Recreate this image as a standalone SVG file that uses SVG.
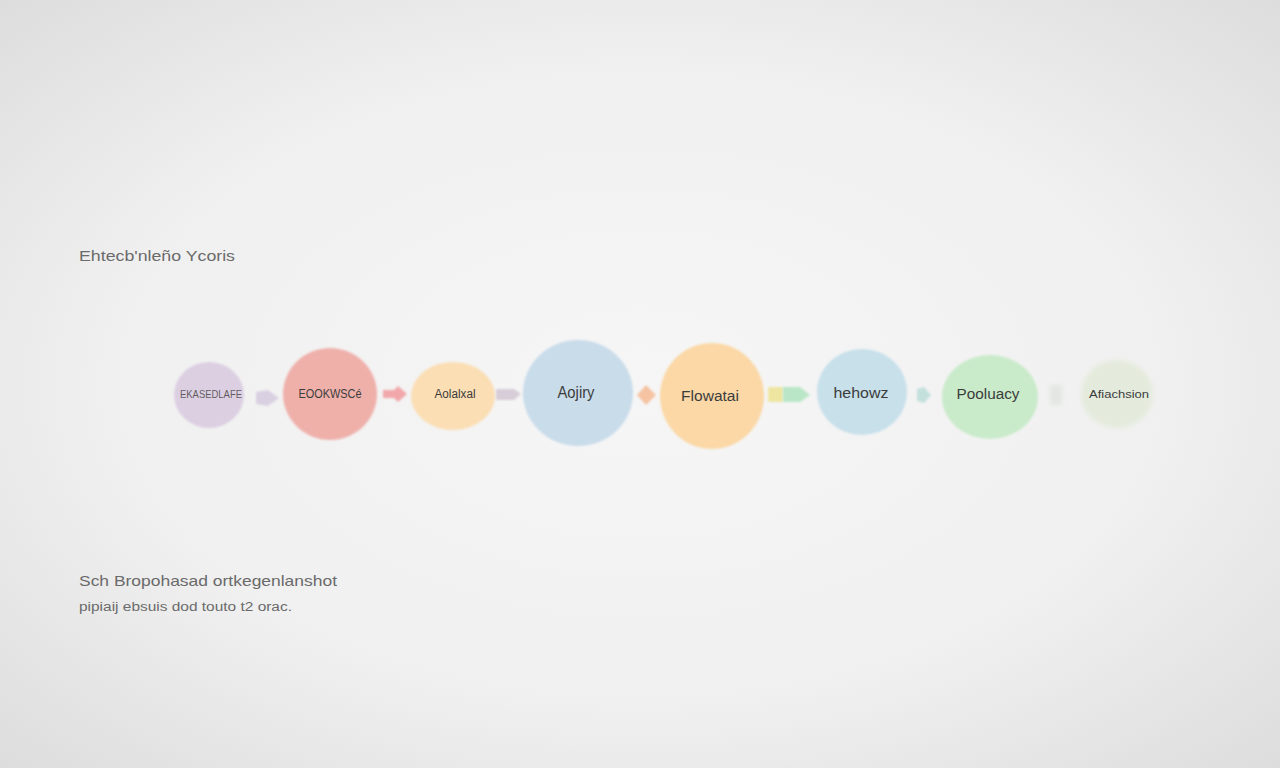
<svg xmlns="http://www.w3.org/2000/svg" width="1280" height="768" viewBox="0 0 1280 768">
<defs>
<radialGradient id="bg" cx="0.5" cy="0.5" r="0.75">
<stop offset="0" stop-color="#f6f6f6"/>
<stop offset="0.55" stop-color="#f0f0f0"/>
<stop offset="1" stop-color="#dadada"/>
</radialGradient>
<filter id="soft" x="-20%" y="-20%" width="140%" height="140%"><feGaussianBlur stdDeviation="1.2"/></filter>
<filter id="softer" x="-30%" y="-30%" width="160%" height="160%"><feGaussianBlur stdDeviation="2"/></filter>
</defs>
<style>
.lbl{font-family:"Liberation Sans",Arial,sans-serif;fill:#3c3c3c;text-anchor:middle;dominant-baseline:central}
.cap{font-family:"Liberation Sans",Arial,sans-serif;fill:#6a6a6a}
</style>
<rect width="1280" height="768" fill="url(#bg)"/>
<g id="title"><text class="cap" x="79" y="261" font-size="15" textLength="156" lengthAdjust="spacingAndGlyphs">Ehtecb'nleño Ycoris</text></g>
<g id="connectors">
<path d="M256 392 L268 390 L279 398 L268 406 L256 404 Z" fill="#d9d0e2" filter="url(#soft)"/>
<path d="M383 390 L394 390 L398 386 L407 394 L398 402 L394 398 L383 398 Z" fill="#f2a7aa" filter="url(#soft)"/>
<path d="M496 389 L514 389 L521 394 L514 400 L496 400 Z" fill="#d7cdd8" filter="url(#soft)"/>
<path d="M637 395 L646 385 L656 395 L646 405 Z" fill="#f6c3a2" filter="url(#soft)"/>
<rect x="768" y="387" width="15" height="15" fill="#eee6a0" filter="url(#soft)"/>
<path d="M783 387 L800 387 L810 395 L800 402 L783 402 Z" fill="#b9e6c6" filter="url(#soft)"/>
<path d="M917 389 L924 387 L931 395 L924 403 L917 401 Z" fill="#c3e0dc" filter="url(#soft)"/>
<rect x="1050" y="385" width="12" height="20" fill="#e3e6e3" filter="url(#softer)"/>
</g>
<g id="n1"><ellipse cx="209" cy="395" rx="35" ry="33" fill="#dccfe2" filter="url(#soft)"/><text class="lbl" x="211" y="394" font-size="11" fill-opacity="0.8" textLength="62" lengthAdjust="spacingAndGlyphs">EKASEDLAFE</text></g>
<g id="n2"><ellipse cx="330" cy="394" rx="47" ry="46" fill="#efb0aa" filter="url(#soft)"/><text class="lbl" x="330" y="393" font-size="13" textLength="63" lengthAdjust="spacingAndGlyphs">EOOKWSCé</text></g>
<g id="n3"><ellipse cx="453" cy="396" rx="42" ry="34" fill="#fbdeb4" filter="url(#soft)"/><text class="lbl" x="455" y="394" font-size="12" textLength="41" lengthAdjust="spacingAndGlyphs">Aolalxal</text></g>
<g id="n4"><ellipse cx="578" cy="393" rx="55" ry="53" fill="#c9dcea" filter="url(#soft)"/><text class="lbl" x="576" y="392" font-size="16" fill="#48556a" textLength="37" lengthAdjust="spacingAndGlyphs">Aojiry</text></g>
<g id="n5"><ellipse cx="712" cy="396" rx="52" ry="53" fill="#fbd8a6" filter="url(#soft)"/><text class="lbl" x="710" y="396" font-size="14" fill="#4a4436" textLength="58" lengthAdjust="spacingAndGlyphs">Flowatai</text></g>
<g id="n6"><ellipse cx="862" cy="392" rx="45" ry="43" fill="#c7e0ea" filter="url(#soft)"/><text class="lbl" x="861" y="393" font-size="14" fill="#3f4a58" textLength="55" lengthAdjust="spacingAndGlyphs">hehowz</text></g>
<g id="n7"><ellipse cx="990" cy="397" rx="48" ry="42" fill="#c9ebca" filter="url(#soft)"/><text class="lbl" x="988" y="394" font-size="14" fill="#3e5a48" textLength="63" lengthAdjust="spacingAndGlyphs">Pooluacy</text></g>
<g id="n8"><ellipse cx="1117" cy="394" rx="36" ry="34" fill="#e4ebdc" filter="url(#softer)"/><text class="lbl" x="1119" y="394" font-size="11" fill="#6b7568" textLength="60" lengthAdjust="spacingAndGlyphs">Afiachsion</text></g>
<g id="notes">
<text class="cap" x="79" y="586" font-size="15" fill="#5c5c5c" textLength="258" lengthAdjust="spacingAndGlyphs">Sch Bropohasad ortkegenlanshot</text>
<text class="cap" x="79" y="611" font-size="12" fill="#7a7a7a" textLength="213" lengthAdjust="spacingAndGlyphs">pipiaij ebsuis dod touto t2 orac.</text>
</g>
</svg>
